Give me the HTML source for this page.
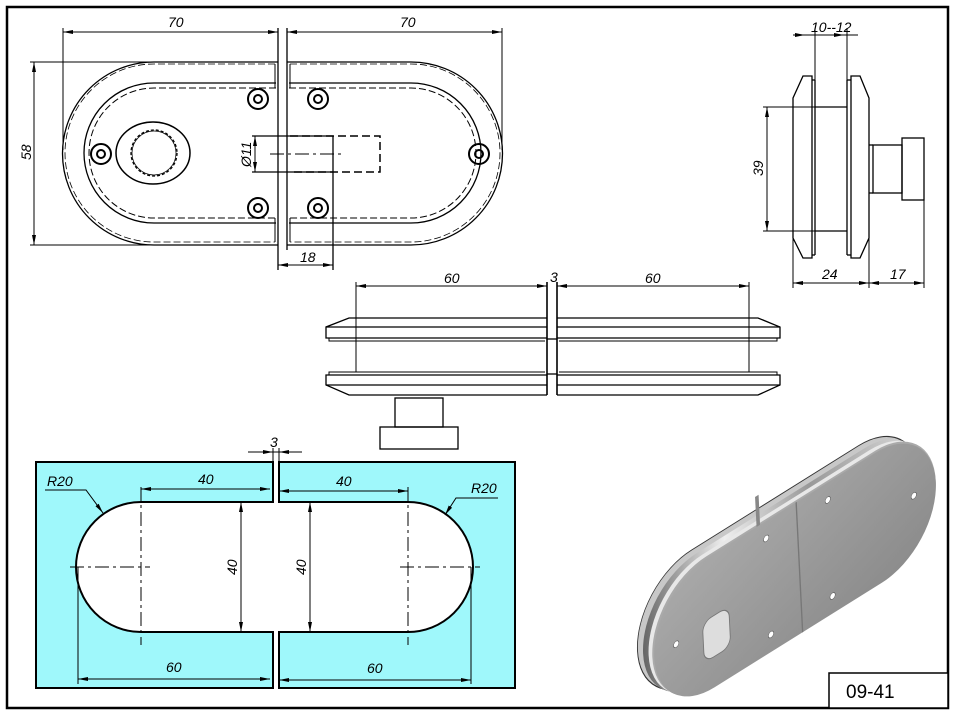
<!DOCTYPE html>
<html><head><meta charset="utf-8"><style>
html,body{margin:0;padding:0;background:#fff}
svg{display:block}
text{font-family:"Liberation Sans",sans-serif;font-style:italic;font-size:14px;fill:#000}
</style></head><body>
<svg width="957" height="719" viewBox="0 0 957 719" xmlns="http://www.w3.org/2000/svg">
<defs>
<marker id="a" viewBox="0 0 10 6" refX="10" refY="3" markerWidth="10" markerHeight="6" orient="auto-start-reverse" markerUnits="userSpaceOnUse"><path d="M0,1 L10,3 L0,5z" fill="#000"/></marker>
<linearGradient id="g1" x1="0" y1="0" x2="1" y2="1"><stop offset="0" stop-color="#aaa"/><stop offset="0.5" stop-color="#9a9a9a"/><stop offset="1" stop-color="#8a8a8a"/></linearGradient>
<linearGradient id="g2" x1="0" y1="0" x2="1" y2="0"><stop offset="0" stop-color="#666"/><stop offset="0.3" stop-color="#eee"/><stop offset="0.6" stop-color="#999"/><stop offset="1" stop-color="#ddd"/></linearGradient>
</defs>
<rect x="0" y="0" width="957" height="719" fill="#fff"/>
<rect x="7" y="7" width="941" height="701" fill="none" stroke="#000" stroke-width="2.5"/>

<!-- TOP VIEW -->
<g fill="none" stroke="#000" stroke-width="1.3">
<path d="M278,62 H154 A91.5,91.5 0 0 0 154,245 H278"/>
<path d="M287,62 H411 A91.5,91.5 0 0 1 411,245 H287"/>
<path d="M276,83 H154 A70,70 0 0 0 154,223 H276"/>
<path d="M289,83 H411 A70,70 0 0 1 411,223 H289"/>
<path d="M276,88 H154 A65,65 0 0 0 154,218 H276" stroke-dasharray="7,3" stroke-width="1"/>
<path d="M289,88 H411 A65,65 0 0 1 411,218 H289" stroke-dasharray="7,3" stroke-width="1"/>
<path d="M275,64 H154 A89,89 0 0 0 154,242 H275" stroke-dasharray="7,3" stroke-width="0.8"/>
<path d="M290,64 H411 A89,89 0 0 1 411,242 H290" stroke-dasharray="7,3" stroke-width="0.8"/>
<path d="M275,64 V88 M290,64 V88 M275,218 V242 M290,218 V242" stroke-width="1"/>
<line x1="278" y1="28" x2="278" y2="270"/><line x1="287" y1="28" x2="287" y2="250"/>
<g stroke-width="2">
<circle cx="258" cy="99" r="10"/><circle cx="258" cy="99" r="4"/>
<circle cx="318" cy="99" r="10"/><circle cx="318" cy="99" r="4"/>
<circle cx="258" cy="208" r="10"/><circle cx="258" cy="208" r="4"/>
<circle cx="318" cy="208" r="10"/><circle cx="318" cy="208" r="4"/>
<circle cx="101" cy="154" r="10"/><circle cx="101" cy="154" r="4"/>
<circle cx="479" cy="154" r="10"/><circle cx="479" cy="154" r="4"/>
</g>
<ellipse cx="153" cy="153" rx="37" ry="31" stroke-width="1.5"/>
<circle cx="154" cy="153" r="23" stroke-dasharray="3,2"/>
<circle cx="154" cy="153" r="22" stroke-width="0.7"/>
<path d="M290,136 H380 V172 H290" stroke-dasharray="8,4" stroke-width="1.5"/>
<line x1="252" y1="136" x2="333" y2="136"/><line x1="252" y1="172" x2="333" y2="172"/>
<line x1="333" y1="136" x2="333" y2="270"/>
<line x1="270" y1="154" x2="345" y2="154" stroke-dasharray="14,4,3,4" stroke-width="1"/>
<line x1="63" y1="28" x2="63" y2="150" stroke-width="1"/><line x1="502" y1="28" x2="502" y2="150" stroke-width="1"/>
<line x1="30" y1="62" x2="150" y2="62" stroke-width="1"/><line x1="30" y1="245" x2="150" y2="245" stroke-width="1"/>
<g stroke-width="1" marker-start="url(#a)" marker-end="url(#a)">
<line x1="63" y1="32" x2="278" y2="32"/>
<line x1="287" y1="32" x2="502" y2="32"/>
<line x1="34" y1="62" x2="34" y2="245"/>
<line x1="278" y1="265" x2="333" y2="265"/>
<line x1="255" y1="136" x2="255" y2="172"/>
</g>
</g>
<text x="168" y="27">70</text><text x="400" y="27">70</text>
<text x="300" y="262">18</text>
<text transform="translate(31,160) rotate(-90)">58</text>
<text transform="translate(251,167) rotate(-90)">Ø11</text>

<!-- SIDE VIEW -->
<g fill="none" stroke="#000" stroke-width="1.3">
<path d="M803,76 H812 V258 H803 L793,238 V98 Z"/>
<line x1="815" y1="80" x2="815" y2="255"/><line x1="812" y1="80" x2="815" y2="80"/><line x1="812" y1="255" x2="815" y2="255"/>
<path d="M860,76 H851 V258 H860 L869,238 V98 Z"/>
<line x1="847" y1="80" x2="847" y2="255"/><line x1="847" y1="80" x2="851" y2="80"/><line x1="847" y1="255" x2="851" y2="255"/>
<line x1="815" y1="107" x2="847" y2="107"/><line x1="815" y1="231" x2="847" y2="231"/>
<rect x="873" y="145" width="29" height="48"/><line x1="869" y1="145" x2="873" y2="145"/><line x1="869" y1="193" x2="873" y2="193"/>
<rect x="902" y="138" width="22" height="62"/>
<g stroke-width="1">
<line x1="815" y1="28" x2="815" y2="80"/><line x1="847" y1="28" x2="847" y2="80"/>
<line x1="763" y1="107" x2="815" y2="107"/><line x1="763" y1="231" x2="815" y2="231"/>
<line x1="793" y1="238" x2="793" y2="288"/><line x1="869" y1="238" x2="869" y2="288"/><line x1="924" y1="200" x2="924" y2="288"/>
<line x1="793" y1="35" x2="805" y2="35" marker-end="url(#a)"/>
<line x1="858" y1="35" x2="870" y2="35" marker-start="url(#a)" transform="rotate(180 851 35) translate(0 0)"/>
<line x1="805" y1="35" x2="858" y2="35"/>
</g>
<g stroke-width="1" marker-start="url(#a)" marker-end="url(#a)">
<line x1="767" y1="107" x2="767" y2="231"/>
<line x1="793" y1="283" x2="869" y2="283"/>
<line x1="869" y1="283" x2="924" y2="283"/>
</g>
</g>
<text x="811" y="32">10--12</text>
<text x="822" y="279">24</text><text x="890" y="279">17</text>
<text transform="translate(763,176) rotate(-90)">39</text>

<!-- FRONT VIEW -->
<g fill="none" stroke="#000" stroke-width="1.3">
<path d="M547,318 H349 L326,327 V338 H547"/>
<path d="M557,318 H758 L780,327 V338 H557"/>
<line x1="326" y1="327" x2="547" y2="327"/><line x1="557" y1="327" x2="780" y2="327"/>
<path d="M329,338 V341 H545 M559,341 H777 V338" stroke-width="1"/>
<path d="M547,395 H349 L326,385 V375 H547"/>
<path d="M557,395 H758 L780,385 V375 H557"/>
<line x1="326" y1="385" x2="547" y2="385"/><line x1="557" y1="385" x2="780" y2="385"/>
<path d="M329,375 V372 H545 M559,372 H777 V375" stroke-width="1"/>
<line x1="547" y1="282" x2="547" y2="395" stroke-width="1.6"/><line x1="557" y1="282" x2="557" y2="395" stroke-width="1.6"/>
<line x1="547" y1="339" x2="557" y2="339"/><line x1="547" y1="374" x2="557" y2="374"/>
<line x1="356" y1="282" x2="356" y2="372" stroke-width="1"/><line x1="749" y1="282" x2="749" y2="372" stroke-width="1"/>
<rect x="395" y="398" width="48" height="29"/>
<rect x="380" y="427" width="78" height="22"/>
<g stroke-width="1" marker-start="url(#a)" marker-end="url(#a)">
<line x1="356" y1="286" x2="547" y2="286"/>
<line x1="557" y1="286" x2="749" y2="286"/>
</g>
</g>
<text x="444" y="283">60</text><text x="550" y="282">3</text><text x="645" y="283">60</text>

<!-- CUT-OUT -->
<path fill-rule="evenodd" fill="#9ff8fb" stroke="#000" stroke-width="2" d="M36,462 H273 V502 H141 A65,65 0 0 0 141,632 H273 V688 H36 Z"/>
<path fill="#9ff8fb" stroke="#000" stroke-width="2" d="M279,462 H515 V688 H279 V632 H408 A65,65 0 0 0 408,502 H279 Z"/>
<g fill="none" stroke="#000" stroke-width="1">
<line x1="141" y1="487" x2="141" y2="645" stroke-dasharray="14,4,3,4"/>
<line x1="408" y1="487" x2="408" y2="645" stroke-dasharray="14,4,3,4"/>
<line x1="70" y1="567" x2="150" y2="567" stroke-dasharray="14,4,3,4"/>
<line x1="400" y1="567" x2="480" y2="567" stroke-dasharray="14,4,3,4"/>
<line x1="78" y1="567" x2="78" y2="684"/><line x1="471" y1="567" x2="471" y2="684"/>
<line x1="248" y1="452" x2="273" y2="452" marker-end="url(#a)"/>
<line x1="302" y1="452" x2="279" y2="452" marker-end="url(#a)"/>
<line x1="273" y1="452" x2="279" y2="452"/>
<line x1="273" y1="448" x2="273" y2="462"/><line x1="279" y1="448" x2="279" y2="462"/>
<g marker-start="url(#a)" marker-end="url(#a)">
<line x1="141" y1="489" x2="270" y2="489"/>
<line x1="279" y1="491" x2="408" y2="491"/>
<line x1="241" y1="502" x2="241" y2="632"/>
<line x1="310" y1="502" x2="310" y2="632"/>
<line x1="78" y1="679" x2="270" y2="679"/>
<line x1="279" y1="680" x2="471" y2="680"/>
</g>
<path d="M45,490 H86 L103,513" marker-end="url(#a)"/>
<path d="M498,498 H456 L445,515" marker-end="url(#a)"/>
</g>
<text x="198" y="484">40</text><text x="336" y="486">40</text>
<text x="166" y="672">60</text><text x="367" y="673">60</text>
<text x="47" y="486">R20</text><text x="471" y="493">R20</text>
<text x="270" y="447">3</text>
<text transform="translate(237,575) rotate(-90)">40</text>
<text transform="translate(306,575) rotate(-90)">40</text>

<!-- 3D -->
<g transform="matrix(0.88,-0.55,0.05,1.0,795,570)">
<rect x="-178" y="-82" width="320" height="130" rx="65" fill="#c8c8c8" stroke="#333" stroke-width="1"/>
<rect x="-172" y="-76" width="320" height="130" rx="65" fill="url(#g2)"/>
<rect x="-166" y="-71" width="320" height="130" rx="65" fill="#e8e8e8"/>
<rect x="-162" y="-67" width="322" height="130" rx="65" fill="#aaa"/>
<rect x="-160" y="-65" width="320" height="130" rx="65" fill="url(#g1)"/>
<line x1="5" y1="-65" x2="5" y2="65" stroke="#777" stroke-width="1.5"/>
<rect x="-40" y="-95" width="4" height="30" fill="#888"/>
<g fill="#fff" stroke="#555" stroke-width="0.6">
<circle cx="-30" cy="-48" r="3"/><circle cx="40" cy="-48" r="3"/>
<circle cx="-30" cy="48" r="3"/><circle cx="40" cy="48" r="3"/>
<circle cx="-135" cy="0" r="3"/><circle cx="135" cy="0" r="3"/>
</g>
<rect x="-105" y="-5" width="30" height="40" rx="10" fill="#ddd" stroke="#777"/>
</g>
<rect x="829" y="673" width="119" height="35" fill="#fff" stroke="#000" stroke-width="1.5"/>
<text x="846" y="698" style="font-style:normal;font-size:19px">09-41</text>
</svg>
</body></html>
